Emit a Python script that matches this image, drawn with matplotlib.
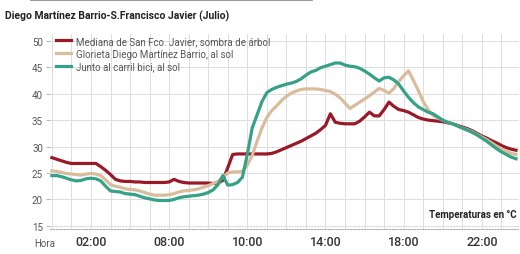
import numpy as np
import matplotlib
matplotlib.use("Agg")
import matplotlib.pyplot as plt

plt.rcParams['font.family'] = ['Roboto', 'DejaVu Sans']

# time in hours, 15-minute steps
hours = np.arange(96) * 0.25

mediana = [
    27.9, 27.6, 27.3, 27.0, 26.8, 26.8, 26.8, 26.8,
    26.8, 26.8, 26.2, 25.5, 24.7, 23.8, 23.5, 23.4,
    23.4, 23.3, 23.3, 23.2, 23.2, 23.2, 23.2, 23.2,
    23.3, 23.8, 23.4, 23.2, 23.1, 23.1, 23.1, 23.1,
    23.1, 23.0, 23.1, 23.6, 26.0, 28.5, 28.6, 28.6,
    28.6, 28.6, 28.6, 28.6, 28.6, 28.7, 29.0, 29.4,
    29.8, 30.2, 30.6, 31.0, 31.5, 32.0, 32.5, 33.2,
    34.0, 36.2, 34.6, 34.4, 34.3, 34.3, 34.3, 34.8,
    35.6, 36.5, 35.8, 35.8, 37.0, 38.4, 37.6, 37.0,
    36.8, 36.5, 36.0, 35.5, 35.2, 35.0, 34.9, 34.8,
    34.7, 34.5, 34.3, 34.0, 33.7, 33.4, 33.0, 32.5,
    32.0, 31.6, 31.1, 30.7, 30.2, 29.8, 29.5, 29.3,
]

glorieta = [
    25.4, 25.3, 25.1, 24.9, 24.8, 24.7, 24.6, 24.8,
    24.9, 24.8, 24.5, 23.7, 22.8, 22.5, 22.3, 22.0,
    21.9, 21.8, 21.6, 21.3, 21.0, 20.8, 20.8, 20.8,
    20.9, 21.1, 21.4, 21.6, 21.7, 21.8, 22.0, 22.3,
    22.6, 23.0, 23.4, 24.2, 25.0, 25.2, 25.2, 25.3,
    26.5, 28.3, 31.0, 33.5, 35.5, 36.8, 37.7, 38.7,
    39.5, 40.1, 40.5, 40.8, 40.9, 40.9, 40.9, 40.8,
    40.6, 40.4, 39.9, 39.2, 38.2, 37.2, 37.8, 38.4,
    39.0, 39.6, 40.3, 41.0, 40.6, 40.1, 41.0, 42.3,
    43.4, 44.3, 42.5, 40.6, 38.5, 37.0, 35.9, 35.4,
    35.0, 34.6, 34.3, 33.9, 33.5, 33.2, 32.8, 32.3,
    31.8, 31.3, 30.7, 30.1, 29.6, 29.1, 28.7, 28.5,
]

carril = [
    24.5, 24.5, 24.3, 24.0, 23.7, 23.5, 23.6, 23.9,
    24.0, 23.9, 23.5, 22.5, 21.6, 21.5, 21.4, 21.1,
    21.0, 20.9, 20.6, 20.3, 20.1, 19.9, 19.8, 19.8,
    19.8, 20.0, 20.3, 20.5, 20.6, 20.7, 20.8, 21.0,
    21.3, 21.8, 22.8, 24.5, 22.7, 22.8, 23.2, 24.2,
    28.5, 33.5, 36.0, 38.5, 40.2, 40.8, 41.2, 41.5,
    41.8, 42.0, 42.3, 42.8, 43.5, 44.1, 44.4, 44.9,
    45.2, 45.5, 45.8, 45.8, 45.4, 45.2, 45.1, 44.8,
    44.3, 43.7, 43.0, 42.4, 43.0, 43.1, 42.6, 41.8,
    40.5, 39.3, 38.3, 37.5, 37.0, 36.5, 36.2, 35.6,
    35.0, 34.6, 34.3, 33.9, 33.5, 33.1, 32.7, 32.2,
    31.6, 31.0, 30.3, 29.6, 29.0, 28.5, 28.0, 27.7,
]

series_labels = [
    "Mediana de San Fco. Javier, sombra de árbol",
    "Glorieta Diego Martínez Barrio, al sol",
    "Junto al carril bici, al sol",
]
colors = ["#981a28", "#d8bc9b", "#35a287"]

xtick_pos = [2, 6, 10, 14, 18, 22]
xtick_labels = ["02:00", "08:00", "10:00", "14:00", "18:00", "22:00"]
yticks = [15, 20, 25, 30, 35, 40, 45, 50]

fig = plt.figure(figsize=(5.2, 2.55), dpi=100)
ax = fig.add_axes([0.096, 0.098, 0.902, 0.765])

for vals, lab, col in zip([mediana, glorieta, carril], series_labels, colors):
    ax.plot(hours, vals, color=col, lw=2.3, label=lab, solid_joinstyle='round')

ax.set_xlim(-0.1, 23.9)
ax.set_ylim(14.4, 51.3)
ax.set_yticks(yticks)
ax.set_xticks(np.arange(0, 24, 1), minor=True)
ax.set_xticks(xtick_pos)
ax.set_xticklabels(xtick_labels, fontsize=9, color="#333333", fontweight="medium")
ax.set_yticklabels([str(v) for v in yticks], fontsize=7, color="#555555")
ax.tick_params(axis='x', length=0, pad=4)
ax.tick_params(axis='y', length=3, color="#bbbbbb", pad=2)
ax.tick_params(axis='x', which='minor', length=0)
ax.grid(True, which='both', axis='x', color="#dddddd", lw=0.7)
ax.grid(True, which='major', axis='y', color="#dddddd", lw=0.7)
ax.set_axisbelow(True)
for s in ["top", "right", "left"]:
    ax.spines[s].set_visible(False)
ax.spines["bottom"].set_color("#aaaaaa")
ax.spines["bottom"].set_linestyle((0, (1, 1.5)))
ax.spines["bottom"].set_linewidth(0.8)

leg = ax.legend(loc="upper left", bbox_to_anchor=(0.0, 1.02), frameon=False,
                fontsize=7, handlelength=1.6, handletextpad=0.5,
                labelspacing=0.3, borderaxespad=0.2)
for t in leg.get_texts():
    t.set_color("#555555")

ax.text(0.995, 0.05, "Temperaturas en °C", transform=ax.transAxes,
        ha="right", va="bottom", fontsize=7, fontweight="bold", color="#222222")

fig.text(0.066, 0.025, "Hora", fontsize=7, color="#555555", ha="left", va="bottom")
fig.text(0.01, 0.935, "Diego Martínez Barrio-S.Francisco Javier (Julio)",
         fontsize=7.5, fontweight="bold", color="#222222", ha="left", va="center")
fig.add_artist(plt.Line2D([0.06, 0.6], [0.995, 0.995], color="#888888", lw=1.2))

fig.savefig("out.png", dpi=100)
